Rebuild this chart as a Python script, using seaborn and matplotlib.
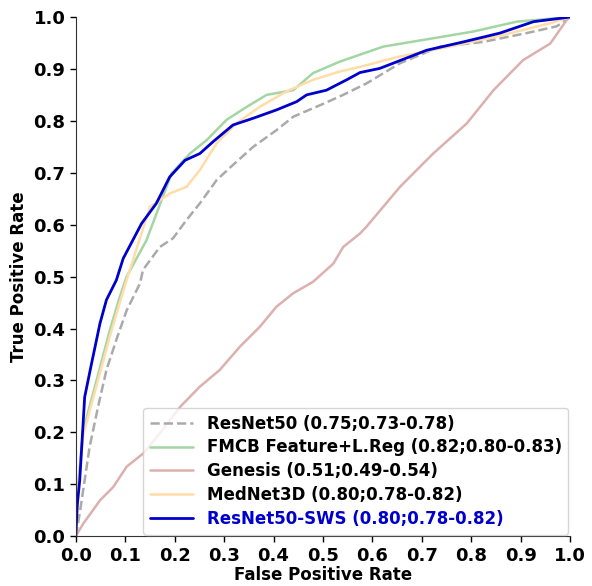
import numpy as np
import pandas as pd
import matplotlib
matplotlib.use("Agg")
import matplotlib.pyplot as plt
import seaborn as sns

# ROC points (FPR, TPR)
resnet50_fpr = [0.0, 0.008, 0.028, 0.045, 0.062, 0.082, 0.103, 0.13, 0.136, 0.17, 0.197, 0.224, 0.251,
                0.285, 0.318, 0.359, 0.406, 0.44, 0.494, 0.541, 0.588, 0.656, 0.737, 0.824, 0.912,
                0.973, 1.0]
resnet50_tpr = [0.0, 0.044, 0.172, 0.249, 0.32, 0.378, 0.435, 0.487, 0.513, 0.557, 0.574, 0.609, 0.641,
                0.686, 0.715, 0.75, 0.782, 0.808, 0.83, 0.85, 0.872, 0.911, 0.943, 0.952, 0.969,
                0.982, 1.0]

fmcb_fpr = [0.0, 0.004, 0.015, 0.042, 0.069, 0.089, 0.103, 0.143, 0.194, 0.231, 0.265, 0.305, 0.346,
            0.386, 0.44, 0.48, 0.534, 0.622, 0.723, 0.804, 0.892, 1.0]
fmcb_tpr = [0.0, 0.09, 0.204, 0.30, 0.397, 0.461, 0.50, 0.57, 0.699, 0.737, 0.763, 0.802, 0.827,
            0.85, 0.859, 0.892, 0.914, 0.943, 0.959, 0.972, 0.991, 1.0]

genesis_fpr = [0.0, 0.015, 0.049, 0.076, 0.103, 0.136, 0.17, 0.211, 0.251, 0.291, 0.332, 0.372, 0.406,
               0.44, 0.48, 0.521, 0.541, 0.575, 0.588, 0.656, 0.723, 0.791, 0.845, 0.905, 0.96,
               0.993, 1.0]
genesis_tpr = [0.0, 0.024, 0.069, 0.095, 0.134, 0.159, 0.198, 0.249, 0.288, 0.32, 0.365, 0.403, 0.442,
               0.468, 0.49, 0.525, 0.557, 0.583, 0.596, 0.673, 0.737, 0.795, 0.859, 0.917, 0.949,
               0.994, 1.0]

mednet_fpr = [0.0, 0.004, 0.015, 0.042, 0.069, 0.089, 0.105, 0.15, 0.19, 0.224, 0.251, 0.285, 0.325,
              0.372, 0.427, 0.48, 0.534, 0.575, 0.656, 0.757, 0.858, 0.96, 1.0]
mednet_tpr = [0.0, 0.085, 0.195, 0.29, 0.385, 0.45, 0.50, 0.634, 0.66, 0.673, 0.705, 0.757, 0.795,
              0.827, 0.857, 0.879, 0.895, 0.904, 0.924, 0.943, 0.964, 0.988, 1.0]

sws_fpr = [0.0, 0.003, 0.008, 0.018, 0.032, 0.049, 0.062, 0.082, 0.096, 0.133, 0.163, 0.19, 0.221,
           0.251, 0.278, 0.318, 0.359, 0.406, 0.447, 0.467, 0.507, 0.548, 0.575, 0.615, 0.71,
           0.784, 0.858, 0.926, 0.993, 1.0]
sws_tpr = [0.0, 0.06, 0.108, 0.268, 0.333, 0.41, 0.455, 0.493, 0.535, 0.602, 0.641, 0.692, 0.724,
           0.737, 0.76, 0.792, 0.805, 0.821, 0.837, 0.85, 0.859, 0.879, 0.893, 0.901, 0.936,
           0.952, 0.969, 0.991, 0.999, 1.0]

labels = ["ResNet50 (0.75;0.73-0.78)", "FMCB Feature+L.Reg (0.82;0.80-0.83)",
          "Genesis (0.51;0.49-0.54)", "MedNet3D (0.80;0.78-0.82)", "ResNet50-SWS (0.80;0.78-0.82)"]

curves = [(resnet50_fpr, resnet50_tpr), (fmcb_fpr, fmcb_tpr), (genesis_fpr, genesis_tpr),
          (mednet_fpr, mednet_tpr), (sws_fpr, sws_tpr)]
colors = ["#aaaaaa", "#a3d6a3", "#ddb0b0", "#ffdca8", "#0000cc"]
styles = ["--", "-", "-", "-", "-"]
widths = [1.8, 1.8, 1.8, 1.8, 2.0]

sns.set_style("white")
plt.rcParams["font.family"] = ["DejaVu Sans"]
plt.rcParams["font.weight"] = "bold"
plt.rcParams["text.color"] = "black"
plt.rcParams["axes.labelcolor"] = "black"
plt.rcParams["xtick.color"] = "black"
plt.rcParams["ytick.color"] = "black"

fig, ax = plt.subplots(figsize=(5.92, 5.86), dpi=100)
fig.subplots_adjust(left=0.128, right=0.963, bottom=0.085, top=0.971)

for (fpr, tpr), lab, c, ls, lw in zip(curves, labels, colors, styles, widths):
    df = pd.DataFrame({"fpr": fpr, "tpr": tpr})
    sns.lineplot(data=df, x="fpr", y="tpr", ax=ax, color=c, linestyle=ls, linewidth=lw,
                 label=lab, sort=False, estimator=None)

ax.set_xlim(0, 1)
ax.set_ylim(0, 1)
ax.set_xticks(np.arange(0, 1.01, 0.1))
ax.set_yticks(np.arange(0, 1.01, 0.1))
ax.tick_params(axis="both", labelsize=13, length=4, width=1, left=True, bottom=True)
for t in ax.get_xticklabels() + ax.get_yticklabels():
    t.set_fontweight("bold")
ax.set_xlabel("False Positive Rate", fontsize=12, fontweight="bold", labelpad=1)
ax.set_ylabel("True Positive Rate", fontsize=12, fontweight="bold")
sns.despine(ax=ax)
ax.spines["left"].set_color("#333333")
ax.spines["bottom"].set_color("#333333")

leg = ax.legend(loc="lower right", prop={"weight": "bold", "size": 12}, frameon=True,
                handlelength=2.6, borderaxespad=0.1, labelspacing=0.35)
leg.get_texts()[-1].set_color("#0000cc")

fig.savefig("out.png", dpi=100)
